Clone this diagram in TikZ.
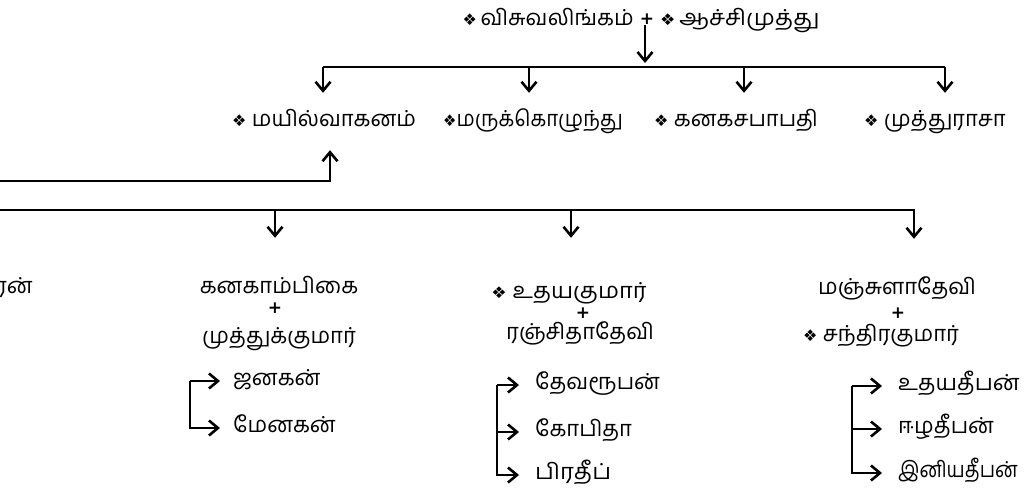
\documentclass[tikz,border=0pt]{standalone}
\usepackage{fontspec}
\setmainfont{Liberation Serif}
\newfontfamily\tam[Script=Tamil]{Hind Madurai}
\newfontfamily\sym{DejaVu Sans}
\usetikzlibrary{arrows.meta}
\newcommand{\dm}{{\sym\fontsize{16}{16}\selectfont ❖}}
\newcommand{\hs}[2]{\scalebox{#1}[1]{#2}}
\tikzset{
  person/.style={font=\tam\fontsize{22}{22}\selectfont, inner sep=2pt, text height=12pt, text depth=4pt},
  plussign/.style={font=\sym\bfseries\fontsize{17}{17}\selectfont, inner sep=0pt},
  ln/.style={line width=2.2pt},
  arr/.style={line width=2.2pt, -{Straight Barb[length=9pt,width=15pt,line width=2.6pt]}},
}
\begin{document}
\begin{tikzpicture}[x=1pt,y=-1pt]
\useasboundingbox (0,0) rectangle (1024,492);
\fill[white] (0,0) rectangle (1024,492);

% top couple
\node[person, anchor=base east] (f) at (636,26) {\dm\,விசுவலிங்கம்};
\node[plussign] (fp) at (647,19) {+};
\node[person, anchor=base west] (m) at (658,26) {\hs{1.07}{\dm\,ஆச்சிமுத்து}};

\coordinate (j) at (645,67);
\draw[arr, shorten >=4pt] (fp.south -| j) -- (j);

% first generation
\node[person, anchor=base west] (c1) at (230,126) {\dm\ மயில்வாகனம்};
\node[person, anchor=base west] (c2) at (441,126) {\hs{0.93}{\dm மருக்கொழுந்து}};
\node[person, anchor=base west] (c3) at (652,126) {\dm\ கனகசபாபதி};
\node[person, anchor=base west] (c4) at (862,126) {\dm\ முத்துராசா};

\coordinate (d1) at (323,67);
\coordinate (d2) at (529,67);
\coordinate (d3) at (744,67);
\coordinate (d4) at (945,67);
\draw[ln] (d1) -- (d4);
\draw[arr, shorten >=19pt] (d1) -- (d1 |- c1.north);
\draw[arr, shorten >=19pt] (d2) -- (d2 |- c2.north);
\draw[arr, shorten >=19pt] (d3) -- (d3 |- c3.north);
\draw[arr, shorten >=19pt] (d4) -- (d4 |- c4.north);

% link up to Mayilvakanam
\coordinate (u0) at (0,181);
\coordinate (u1) at (330,181);
\draw[arr, shorten >=18pt] (u0) -- (u1) -- (u1 |- c1.south);

% second generation
\node[person, anchor=base east] (z) at (35,293) {ரன்};

\node[person, anchor=base] (a1) at (279,293) {கனகாம்பிகை};
\node[plussign] (ap) at (275,308) {+};
\node[person, anchor=base] (a2) at (279,343) {முத்துக்குமார்};

\node[person, anchor=base] (b1) at (569,298) {\hs{1.07}{\dm\ உதயகுமார்}};
\node[plussign] (bp) at (583,313) {+};
\node[person, anchor=base] (b2) at (580,339) {ரஞ்சிதாதேவி};

\node[person, anchor=base] (e1) at (897,294) {மஞ்சுளாதேவி};
\node[plussign] (ep) at (898,313) {+};
\node[person, anchor=base] (e2) at (881,341) {\dm\ சந்திரகுமார்};

\coordinate (v0) at (0,210);
\coordinate (v1) at (275,210);
\coordinate (v2) at (571,210);
\coordinate (v3) at (914,210);
\draw[arr, shorten >=41pt] (v0) -- (v3) -- (v3 |- e1.north);
\draw[arr, shorten >=41pt] (v1) -- (v1 |- a1.north);
\draw[arr, shorten >=46pt] (v2) -- (v2 |- b1.north);

% grandchildren A
\node[person, anchor=base west] (ga1) at (231,385) {ஜனகன்};
\node[person, anchor=base west] (ga2) at (231,432) {மேனகன்};
\coordinate (ka) at (190,0);
\draw[arr, shorten >=11pt] (ka |- ga1.west) -- (ga1.west);
\draw[arr, shorten >=11pt] (ka |- ga1.west) |- (ga2.west);

% grandchildren B
\node[person, anchor=base west] (gb1) at (533,389) {தேவரூபன்};
\node[person, anchor=base west] (gb2) at (533,436) {கோபிதா};
\node[person, anchor=base west] (gb3) at (533,479) {\hs{1.08}{பிரதீப்}};
\coordinate (kb) at (497,0);
\draw[arr, shorten >=14pt] (kb |- gb1.west) -- (gb1.west);
\draw[arr, shorten >=14pt] (kb |- gb1.west) |- (gb2.west);
\draw[arr, shorten >=14pt] (kb |- gb1.west) |- (gb3.west);

% grandchildren C
\node[person, anchor=base west] (gc1) at (896,390) {\hs{1.04}{உதயதீபன்}};
\node[person, anchor=base west] (gc2) at (896,433) {ஈழதீபன்};
\node[person, anchor=base west] (gc3) at (896,477) {\hs{0.88}{இனியதீபன்}};
\coordinate (kc) at (852,0);
\draw[arr, shorten >=14pt] (kc |- gc1.west) -- (gc1.west);
\draw[arr, shorten >=14pt] (kc |- gc1.west) |- (gc2.west);
\draw[arr, shorten >=14pt] (kc |- gc1.west) |- (gc3.west);
\end{tikzpicture}
\end{document}
